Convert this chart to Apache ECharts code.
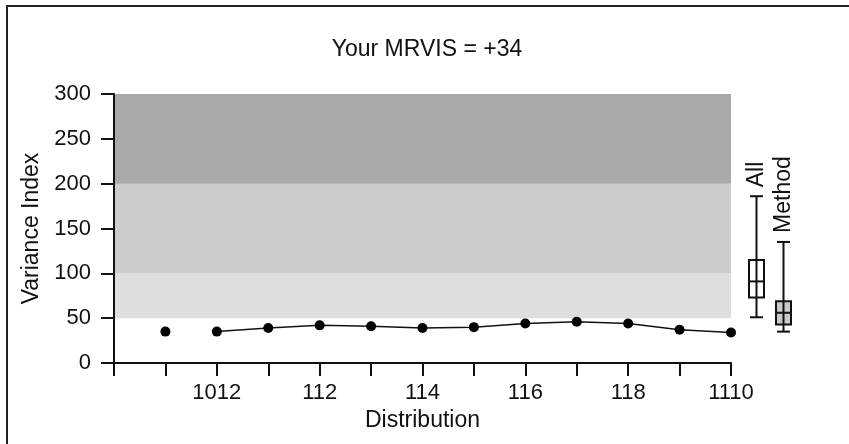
<!DOCTYPE html>
<html>
<head>
<meta charset="utf-8">
<script src="https://cdn.jsdelivr.net/npm/echarts@6/dist/echarts.min.js"></script>
<style>
  html, body { margin: 0; padding: 0; background: #fff; }
  #chart { width: 849px; height: 444px; }
</style>
</head>
<body>
<div id="chart"></div>
<script>
// x categories (year+month), every other one is labelled
var categories = ['1011', '1012', '111', '112', '113', '114', '115', '116', '117', '118', '119', '1110'];
var values = [35, 35, 39, 42, 41, 39, 40, 44, 46, 44, 37, 34];
var yTicks = [0, 50, 100, 150, 200, 250, 300];
// shaded zones [from, to]
var bands = [[50, 100], [100, 200], [200, 300]];
// box plots: min, q1, median, q3, max
var boxNames = ['All', 'Method'];
var boxStats = [
  [51, 73, 91, 115, 186],
  [35, 43, 56, 69, 135]
];

var FONT = 'Liberation Sans';
var bandColors = ['#dedede', '#cccccc', '#a9a9a9'];
var boxFills = ['#ffffff', '#c9c9c9'];

var myChart = echarts.init(document.getElementById('chart'));

// first point is on its own, the rest is joined
var loose = [[1, values[0]]];
var joined = [];
for (var i = 1; i < values.length; i++) {
  joined.push([i + 1, values[i]]);
}

function renderBox(params, api) {
  var idx = params.dataIndex;
  var x = api.coord([api.value(0), 0])[0];
  var yMin = api.coord([0, api.value(1)])[1];
  var yQ1 = api.coord([0, api.value(2)])[1];
  var yMed = api.coord([0, api.value(3)])[1];
  var yQ3 = api.coord([0, api.value(4)])[1];
  var yMax = api.coord([0, api.value(5)])[1];
  var half = 7.5;
  var cap = 6.5;
  var ls = { stroke: '#111', lineWidth: 2, fill: null };
  return {
    type: 'group',
    children: [
      { type: 'line', shape: { x1: x, y1: yMax, x2: x, y2: yMin }, style: ls },
      { type: 'line', shape: { x1: x - cap, y1: yMax, x2: x + cap, y2: yMax }, style: ls },
      { type: 'line', shape: { x1: x - cap, y1: yMin, x2: x + cap, y2: yMin }, style: ls },
      {
        type: 'rect',
        shape: { x: x - half, y: yQ3, width: half * 2, height: yQ1 - yQ3 },
        style: { stroke: '#111', lineWidth: 2, fill: boxFills[idx] }
      },
      { type: 'line', shape: { x1: x, y1: yQ3, x2: x, y2: yQ1 }, style: ls },
      { type: 'line', shape: { x1: x - half, y1: yMed, x2: x + half, y2: yMed }, style: ls },
      {
        type: 'text',
        x: x,
        y: yMax - 9,
        rotation: Math.PI / 2,
        style: {
          text: boxNames[idx],
          fill: '#111',
          font: '23px "' + FONT + '"',
          align: 'left',
          verticalAlign: 'middle'
        }
      }
    ]
  };
}

var option = {
  animation: false,
  textStyle: { fontFamily: FONT, color: '#111' },
  title: {
    text: 'Your MRVIS = +34',
    left: 422,
    top: 33,
    textAlign: 'center',
    textStyle: { fontFamily: FONT, fontSize: 23, fontWeight: 'normal', color: '#111' }
  },
  graphic: [
    {
      type: 'rect',
      shape: { x: 7, y: 6, width: 900, height: 500 },
      style: { fill: null, stroke: '#222', lineWidth: 2 },
      z: 100
    }
  ],
  grid: [
    { left: 114, right: 118, top: 94, bottom: 81 },
    { left: 743, width: 54, top: 94, bottom: 81 }
  ],
  xAxis: [
    {
      type: 'value',
      gridIndex: 0,
      min: 0,
      max: 12,
      interval: 1,
      z: 5,
      name: 'Distribution',
      nameLocation: 'middle',
      nameGap: 45,
      nameTextStyle: { fontSize: 23, color: '#111', fontFamily: FONT },
      splitLine: { show: false },
      axisLine: { lineStyle: { color: '#111', width: 2 } },
      axisTick: { length: 13, lineStyle: { color: '#111', width: 2 } },
      axisLabel: {
        fontSize: 22,
        color: '#111',
        margin: 19,
        formatter: function (v) {
          return (v > 0 && v % 2 === 0) ? categories[v - 1] : '';
        }
      }
    },
    { type: 'value', gridIndex: 1, min: 0, max: 2, show: false }
  ],
  yAxis: [
    {
      type: 'value',
      gridIndex: 0,
      min: yTicks[0],
      max: yTicks[yTicks.length - 1],
      interval: yTicks[1] - yTicks[0],
      z: 5,
      name: 'Variance Index',
      nameLocation: 'middle',
      nameGap: 68,
      nameTextStyle: { fontSize: 23, color: '#111', fontFamily: FONT },
      splitLine: { show: false },
      axisLine: { show: true, lineStyle: { color: '#111', width: 2 } },
      axisTick: { show: true, length: 13, lineStyle: { color: '#111', width: 2 } },
      axisLabel: { fontSize: 22, color: '#111', margin: 23 }
    },
    {
      type: 'value',
      gridIndex: 1,
      min: yTicks[0],
      max: yTicks[yTicks.length - 1],
      show: false
    }
  ],
  series: [
    {
      type: 'line',
      xAxisIndex: 0,
      yAxisIndex: 0,
      data: joined,
      symbol: 'circle',
      symbolSize: 10,
      lineStyle: { color: '#111', width: 1.5 },
      itemStyle: { color: '#000' },
      z: 3,
      markArea: {
        silent: true,
        data: bands.map(function (b, i) {
          return [
            { yAxis: b[0], itemStyle: { color: bandColors[i] } },
            { yAxis: b[1] }
          ];
        })
      }
    },
    {
      type: 'scatter',
      xAxisIndex: 0,
      yAxisIndex: 0,
      data: loose,
      symbol: 'circle',
      symbolSize: 10,
      itemStyle: { color: '#000', opacity: 1 },
      z: 3
    },
    {
      type: 'custom',
      xAxisIndex: 1,
      yAxisIndex: 1,
      renderItem: renderBox,
      data: boxStats.map(function (s, i) {
        return [i + 0.5].concat(s);
      }),
      z: 4
    }
  ]
};

myChart.setOption(option);
</script>
</body>
</html>
